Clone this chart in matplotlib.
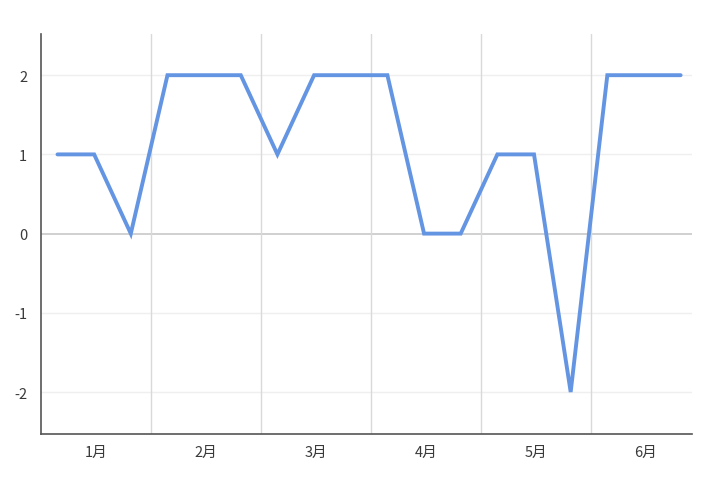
import matplotlib
matplotlib.use("Agg")
import matplotlib.pyplot as plt

plt.rcParams['font.family'] = ['Noto Sans CJK SC', 'DejaVu Sans']

months = [1, 1, 1, 2, 2, 2, 3, 3, 3, 4, 4, 4, 5, 5, 5, 6, 6, 6]
days = [5.5, 15.5, 25.5] * 6
values = [1, 1, 0, 2, 2, 2, 1, 2, 2, 2, 0, 0, 1, 1, -2, 2, 2, 2]
month_labels = ["1月", "2月", "3月", "4月", "5月", "6月"]
y_ticks = [-2, -1, 0, 1, 2]

x = [(m - 1) + (d - 1) / 30 for m, d in zip(months, days)]

fig = plt.figure(figsize=(7.2, 4.89), dpi=100)
ax = fig.add_axes([41 / 720, 1 - 435 / 489, (692 - 41) / 720, (435 - 35) / 489])

ax.set_xlim(0, 5.92)
ax.set_ylim(-2.53, 2.52)

# grid
for yv in y_ticks:
    ax.axhline(yv, color="#c8c8c8" if yv == 0 else "#efefef", lw=1.2 if yv == 0 else 1.0, zorder=1)
for k in range(1, 6):
    ax.axvline(k, color="#d9d9d9", lw=1.0, zorder=1)

ax.plot(x, values, color="#6495e3", lw=2.8, solid_joinstyle="miter", solid_capstyle="round", zorder=3)

ax.set_yticks(y_ticks)
ax.set_yticklabels([str(v) for v in y_ticks])
ax.set_xticks([i + 0.5 for i in range(6)])
ax.set_xticklabels(month_labels)
ax.tick_params(axis="both", length=0, labelsize=10.5, colors="#3a3a3a")
ax.tick_params(axis="y", pad=10)
ax.tick_params(axis="x", pad=8)

for s in ["top", "right"]:
    ax.spines[s].set_visible(False)
for s in ["left", "bottom"]:
    ax.spines[s].set_color("#555555")
    ax.spines[s].set_linewidth(1.2)

fig.savefig("out.png", dpi=100)
